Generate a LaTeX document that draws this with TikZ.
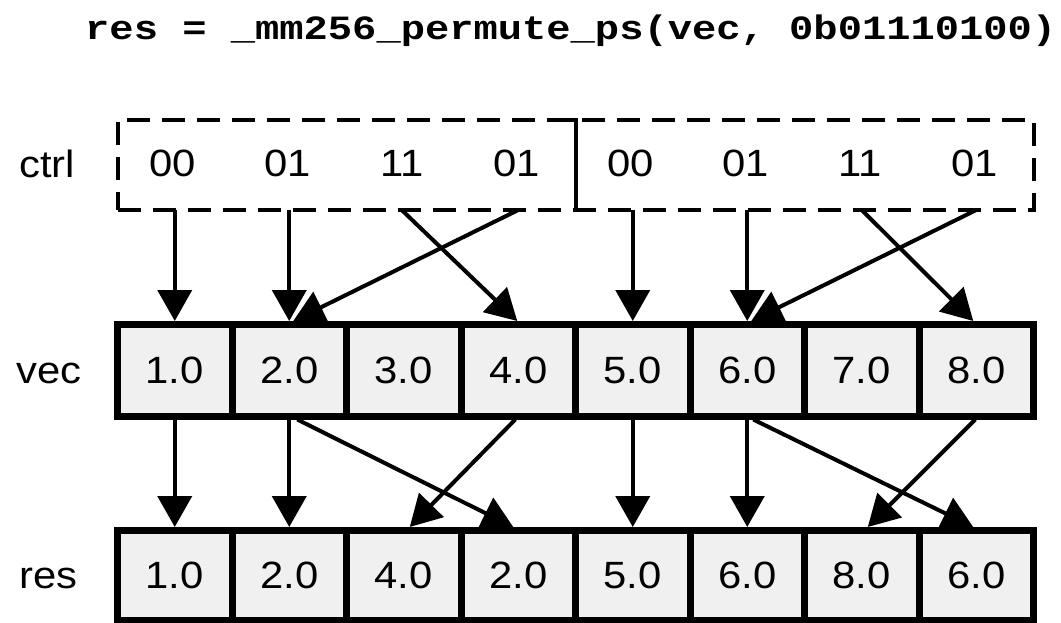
\documentclass[tikz,border=0pt]{standalone}
\usepackage{fontspec}
\setmainfont{Liberation Sans}
\newfontfamily\codefont{Liberation Mono}
\usetikzlibrary{arrows.meta,calc}
\definecolor{cellgray}{RGB}{240,240,240}
\newcommand{\lb}[1]{\scalebox{1.1}[1]{#1}}
\begin{document}
\begin{tikzpicture}[x=1pt,y=-1pt,
  txtfont/.style={font=\fontsize{38}{40}\selectfont},
  cell/.style={draw=black, fill=cellgray, line width=7pt, minimum width=114.5pt,
    minimum height=91.5pt, inner sep=0pt, outer sep=3.5pt, txtfont},
  lbltxt/.style={inner sep=0pt, txtfont, anchor=base},
  ctrlbox/.style={draw=black, line width=4pt, dash pattern=on 23pt off 12pt,
    minimum width=916pt, minimum height=90.5pt, inner sep=0pt, outer sep=0pt},
  arr/.style={draw=black, line width=4pt, -{Triangle[length=31pt,width=34pt]}}
]
\useasboundingbox (0,0) rectangle (1061,622);

% title
\node[anchor=base west, inner sep=0pt, font=\codefont\bfseries\fontsize{34}{36}\selectfont]
  (title) at (85,39) {\scalebox{1.19}[1]{res = \_mm256\_permute\_ps(vec, 0b01110100)}};

% row labels
\node[lbltxt] (lctrl) at (47,177) {\lb{ctrl}};
\node[lbltxt] (lvec) at (49,383) {\lb{vec}};
\node[lbltxt] (lres) at (48.5,588) {\lb{res}};

% control box
\node[ctrlbox] (ctrl) at (575.5,164.75) {};
\draw[line width=4pt] ($(ctrl.north)+(-15,0)$) -| (ctrl.south) -- ++(14,0);

\foreach \t [count=\i] in {00,01,11,01,00,01,11,01}
  \node[lbltxt] (c\i) at ({58.25+114.5*\i},176) {\lb{\t}};

% vec row
\foreach \t [count=\i] in {1.0,2.0,3.0,4.0,5.0,6.0,7.0,8.0}
  \node[cell] (v\i) at ({60.25+114.5*\i},370.25) {\lb{\t}};

% res row
\foreach \t [count=\i] in {1.0,2.0,4.0,2.0,5.0,6.0,8.0,6.0}
  \node[cell, minimum height=90pt] (r\i) at ({60.25+114.5*\i},575.5) {\lb{\t}};

% ctrl -> vec
\foreach \i in {1,2,5,6}
  \draw[arr] (v\i.north |- ctrl.south) -- (v\i.north);
\draw[arr] ($(v3.north |- ctrl.south)+(-2,0)$) -- ($(v4.north)+(-1,0)$);
\draw[arr] (v4.north |- ctrl.south) -- ($(v2.north)+(4,0)$);
\draw[arr] (v7.north |- ctrl.south) -- ($(v8.north)+(-3,0)$);
\draw[arr] (v8.north |- ctrl.south) -- ($(v6.north)+(4,0)$);

% vec -> res
\foreach \i in {1,2,5,6}
  \draw[arr] (v\i.south) -- (r\i.north);
\draw[arr] ($(v2.south)+(8,0)$) -- ($(r4.north)+(-5,0)$);
\draw[arr] ($(v4.south)+(-3,0)$) -- ($(r3.north)+(6,0)$);
\draw[arr] ($(v6.south)+(6,0)$) -- ($(r8.north)+(-3,0)$);
\draw[arr] ($(v8.south)+(-1,0)$) -- ($(r7.north)+(6,0)$);
\end{tikzpicture}
\end{document}
